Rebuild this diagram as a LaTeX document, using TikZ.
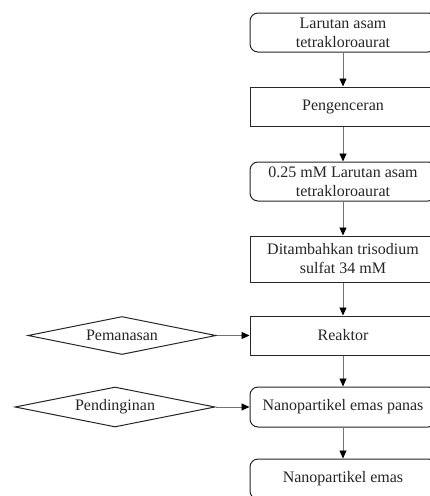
\documentclass[tikz,border=0pt]{standalone}
\usepackage{fontspec}
\setmainfont{Liberation Serif}
\usetikzlibrary{shapes.geometric,arrows.meta}
\begin{document}
\begin{tikzpicture}[x=1pt,y=-1pt,
  every node/.style={font=\fontsize{16}{19}\selectfont, text=black!85},
  procbox/.style={draw=black!85, line width=1pt, minimum width=186pt, inner sep=0pt, align=center},
  roundbox/.style={procbox, rounded corners=8pt},
  sqbox/.style={procbox},
  decision/.style={draw=black!85, line width=1pt, shape=diamond, inner sep=0pt},
  flow/.style={draw=black!55, line width=0.9pt, -{Triangle[length=8pt,width=7pt,color=black]}}
]
\useasboundingbox (0,0) rectangle (430,496);
\clip (0,0) rectangle (430,496);
\fill[white] (0,0) rectangle (430,496);
\node[roundbox, minimum height=39pt] (b1) at (343,32.5) {Larutan asam\\tetrakloroaurat};
\node[sqbox, minimum height=39pt] (b2) at (343,106.5) {Pengenceran};
\node[roundbox, minimum height=39pt] (b3) at (343,181.5) {0.25 mM Larutan asam\\tetrakloroaurat};
\node[sqbox, minimum height=46pt] (b4) at (343,259) {Ditambahkan trisodium\\sulfat 34 mM};
\node[sqbox, minimum height=39pt] (b5) at (343,335.5) {Reaktor};
\node[roundbox, minimum height=40pt] (b6) at (343,407) {Nanopartikel emas panas};
\node[roundbox, minimum height=40pt] (b7) at (343,479) {Nanopartikel emas};
\node[decision, shape aspect=4.95, minimum width=188pt, minimum height=38pt] (d1) at (122,335.5) {Pemanasan};
\node[decision, shape aspect=5, minimum width=200pt, minimum height=40pt] (d2) at (115,407) {Pendinginan};
\draw[flow] (b1) -- (b2);
\draw[flow] (b2) -- (b3);
\draw[flow] (b3) -- (b4);
\draw[flow] (b4) -- (b5);
\draw[flow] (b5) -- (b6);
\draw[flow] (b6) -- (b7);
\draw[flow] (d1) -- (b5);
\draw[flow] (d2) -- (b6);
\end{tikzpicture}
\end{document}
